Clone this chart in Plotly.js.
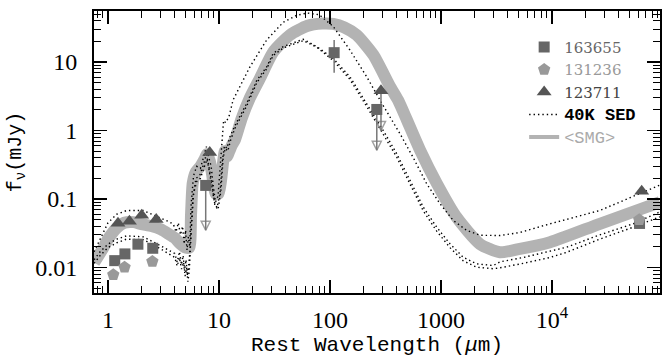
<!DOCTYPE html>
<html>
<head>
<meta charset="utf-8">
<script src="https://cdn.plot.ly/plotly-3.0.1.min.js"></script>
<style>html,body{margin:0;padding:0;background:#fff;}#chart{width:662px;height:357px;}</style>
</head>
<body>
<div id="chart"></div>
<script>
// ---- data (rest wavelength in micron, flux density in mJy) ----
const smgLam = [0.75,0.9,1.0,1.2,1.4,1.7,2.0,2.5,3.0,3.5,4.0,4.5,5.0,5.4,5.6,5.8,6.2,6.8,7.4,7.8,8.3,8.7,9.3,9.9,10.4,10.9,11.3,11.8,12.4,13.0,14,16,19,23.4,31,43.6,62,85,107,135,174,246,347,410,491,647,915,1384,2245,3400,5000,9600,27000,94000];
const smgF   = [0.0118,0.019,0.026,0.038,0.045,0.046,0.043,0.040,0.036,0.031,0.027,0.022,0.0195,0.0195,0.06,0.17,0.25,0.30,0.38,0.45,0.35,0.22,0.12,0.12,0.18,0.35,0.5,0.42,0.5,0.6,0.75,1.5,3.0,5.8,14.2,24.8,33.6,36.5,36,32,24.8,12.7,4.4,2.78,1.45,0.52,0.17,0.054,0.022,0.0167,0.0185,0.0234,0.0435,0.09];

const sedHiLam = [0.75,0.85,1.0,1.2,1.47,2.08,2.94,3.5,3.88,4.1,4.3,4.5,4.7,4.85,5.0,5.15,5.3,5.45,5.6,5.9,6.3,6.8,7.3,7.7,8.1,8.5,8.9,9.3,9.8,10.3,10.8,11.0,11.5,12.3,13.4,15.5,19,26.9,37.9,50,62,80,107,151,214,302,427,563,743,979,1291,1706,2245,3400,5150,9600,27000,94000];
const sedHiF   = [0.017,0.026,0.045,0.060,0.068,0.068,0.054,0.047,0.043,0.033,0.045,0.030,0.040,0.022,0.035,0.018,0.028,0.020,0.08,0.22,0.30,0.28,0.42,0.58,0.40,0.30,0.15,0.09,0.11,0.3,0.9,1.4,1.3,1.6,2.8,4.5,8.5,21,38,48,52,49,33,15,6.1,2.3,0.9,0.4,0.167,0.0855,0.0486,0.0348,0.0296,0.0293,0.0325,0.0435,0.068,0.16];

const sedMidLam = [0.75,0.85,1.0,1.2,1.47,2.08,2.94,3.5,4.0,4.2,4.4,4.6,4.75,4.9,5.05,5.2,5.35,5.5,5.8,6.2,6.7,7.3,7.7,8.1,8.6,9.1,9.6,10.2,10.7,11.2,11.8,12.5,14,17.8,21.9,26.9,30.8,37.9,57.5,75.9,107,151,214,302,399,526,693,915,1205,1588,2098,2960,3400,5500,9600,13560,27000,54000,94000];
const sedMidF   = [0.013,0.017,0.022,0.026,0.029,0.028,0.021,0.018,0.016,0.012,0.017,0.011,0.015,0.009,0.013,0.0075,0.011,0.02,0.1,0.2,0.22,0.33,0.45,0.3,0.18,0.09,0.075,0.12,0.35,0.6,0.55,0.8,1.2,2.5,5.4,8.5,13.4,16.8,21.5,16.8,11.3,6.1,2.48,1.0,0.46,0.187,0.076,0.0388,0.0222,0.0141,0.0113,0.0107,0.0121,0.014,0.0172,0.0198,0.030,0.0435,0.065];

const sedLoLam = [0.75,0.85,1.0,1.2,1.47,2.08,2.94,3.5,4.0,4.2,4.4,4.6,4.8,4.95,5.1,5.25,5.4,5.6,5.9,6.3,6.8,7.4,7.8,8.2,8.7,9.2,9.8,10.4,10.9,11.4,12.0,12.8,14,17.8,21.9,26.9,30.8,37.9,57.5,75.9,107,151,214,302,399,526,693,915,1205,1588,2098,2960,3400,5500,9600,13560,27000,54000,94000];
const sedLoF   = [0.0115,0.015,0.0195,0.023,0.026,0.0255,0.019,0.016,0.014,0.0105,0.014,0.0095,0.012,0.0075,0.010,0.0062,0.009,0.03,0.12,0.18,0.2,0.3,0.38,0.25,0.14,0.08,0.07,0.13,0.4,0.55,0.5,0.75,1.1,2.3,5.0,8.0,12.5,16,20.5,16.5,10.5,5.6,2.25,0.9,0.41,0.165,0.067,0.034,0.0195,0.0125,0.0101,0.0096,0.0099,0.0115,0.014,0.0167,0.026,0.0388,0.055];

// 163655 (squares)
const sqLam = [1.15,1.42,1.86,2.53,7.59,109,264,61500];
const sqF   = [0.0126,0.0158,0.0219,0.0191,0.158,13.7,2.03,0.044];
const sqErrHi = [0,0,0,0,0,7.3,0,0];
const sqErrLo = [0,0,0,0,0,6.7,0,0];
const sqLimLam = [7.59,264];
const sqLimFrom = [0.158,2.03];
const sqLimTo = [0.035,0.515];

// 131236 (pentagons)
const pnLam = [1.116,1.41,2.51,61100];
const pnF   = [0.00787,0.0101,0.0122,0.0498];

// 123711 (triangles)
const trLam = [1.23,1.56,2.01,2.72,8.25,288,64300];
const trF   = [0.0444,0.0475,0.058,0.0502,0.476,3.8,0.13];
const trLimLam = [288];
const trLimFrom = [3.8];
const trLimTo = [1.0];

const xTicks = [1,10,100,1000,10000];
const xTickText = ['1','10','100','1000','10<sup>4</sup>'];
const yTicks = [0.01,0.1,1,10];
const yTickText = ['0.01','0.1','1','10'];

const MONO = '"Liberation Mono", "DejaVu Sans Mono", monospace';
const SERIF = '"DejaVu Serif", "Liberation Serif", serif';
const TICKSERIF = '"Liberation Serif", "DejaVu Serif", serif';

const dotted = {color:'#000', width:1.4, dash:'1.4px,3px'};

function limitTraces(lam, from, to){
  return lam.map((l,i)=>({
    x:[l, l], y:[from[i], to[i]], mode:'lines+markers',
    line:{color:'#777777', width:1.5},
    marker:{symbol:'arrow-down-open', size:[0, 9], color:'#777777', line:{color:'#777777', width:1.5}},
    showlegend:false, hoverinfo:'skip'
  }));
}

const traces = [
  {x:smgLam, y:smgF, mode:'lines', line:{color:'#b3b3b3', width:12, shape:'spline', smoothing:0.6}, showlegend:false, hoverinfo:'skip'},
  {x:sedHiLam, y:sedHiF, mode:'lines', line:dotted, name:'<span style="font-family:Liberation Mono;font-size:17px;font-weight:bold;color:#000000">40K SED</span>', legendrank:4, showlegend:true},
  {x:sedMidLam, y:sedMidF, mode:'lines', line:dotted, showlegend:false},
  {x:sedLoLam, y:sedLoF, mode:'lines', line:dotted, showlegend:false},
  {x:[null], y:[null], mode:'lines', line:{color:'#b3b3b3', width:4}, name:'<span style="font-family:Liberation Mono;font-size:17px;color:#aaaaaa">&lt;SMG&gt;</span>', legendrank:5}
].concat(limitTraces(sqLimLam, sqLimFrom, sqLimTo), limitTraces(trLimLam, trLimFrom, trLimTo), [
  {x:sqLam, y:sqF, mode:'markers', marker:{symbol:'square', size:11, color:'#666666'},
   error_y:{type:'data', symmetric:false, array:sqErrHi, arrayminus:sqErrLo, color:'#777777', thickness:1.5, width:0},
   name:'<span style="color:#666666">163655</span>', legendrank:1},
  {x:pnLam, y:pnF, mode:'markers', marker:{symbol:'pentagon', size:13, color:'#999999'}, name:'<span style="color:#999999">131236</span>', legendrank:2},
  {x:trLam, y:trF, mode:'markers', marker:{symbol:'triangle-up', size:13, color:'#555555'}, name:'<span style="color:#444444">123711</span>', legendrank:3}
]);

const axisCommon = {
  type:'log', showline:true, linecolor:'#000', linewidth:2, mirror:'allticks',
  ticks:'inside', ticklen:13, tickwidth:1.5, tickcolor:'#000',
  showgrid:false, zeroline:false,
  minor:{ticks:'inside', ticklen:7, tickwidth:1, tickcolor:'#000', dtick:'D1', showgrid:false},
  tickfont:{family:TICKSERIF, size:24, color:'#000'}
};

const layout = {
  width:662, height:357,
  margin:{l:94, r:2, t:11, b:64},
  paper_bgcolor:'#fff', plot_bgcolor:'#fff',
  font:{family:SERIF, color:'#000'},
  showlegend:true,
  legend:{x:0.76, y:0.93, xanchor:'left', yanchor:'top', bgcolor:'rgba(0,0,0,0)', borderwidth:0,
          font:{family:SERIF, size:15}, traceorder:'normal', itemwidth:30},
  xaxis:Object.assign({}, axisCommon, {
    range:[Math.log10(0.748), Math.log10(94000)], dtick:1, tickvals:xTicks, ticktext:xTickText,
    ticklabelstandoff:4,
    title:{text:'Rest Wavelength (<i>μ</i>m)', font:{family:MONO, size:21, color:'#000'}, standoff:8}
  }),
  yaxis:Object.assign({}, axisCommon, {
    range:[-2.372, 1.745], dtick:1, tickvals:yTicks, ticktext:yTickText,
    ticklabelstandoff:10,
    title:{text:'f<sub>ν</sub>(mJy)', font:{family:MONO, size:20, color:'#000'}, standoff:8}
  })
};

Plotly.newPlot('chart', traces, layout, {staticPlot:true, displayModeBar:false});
</script>
</body>
</html>
